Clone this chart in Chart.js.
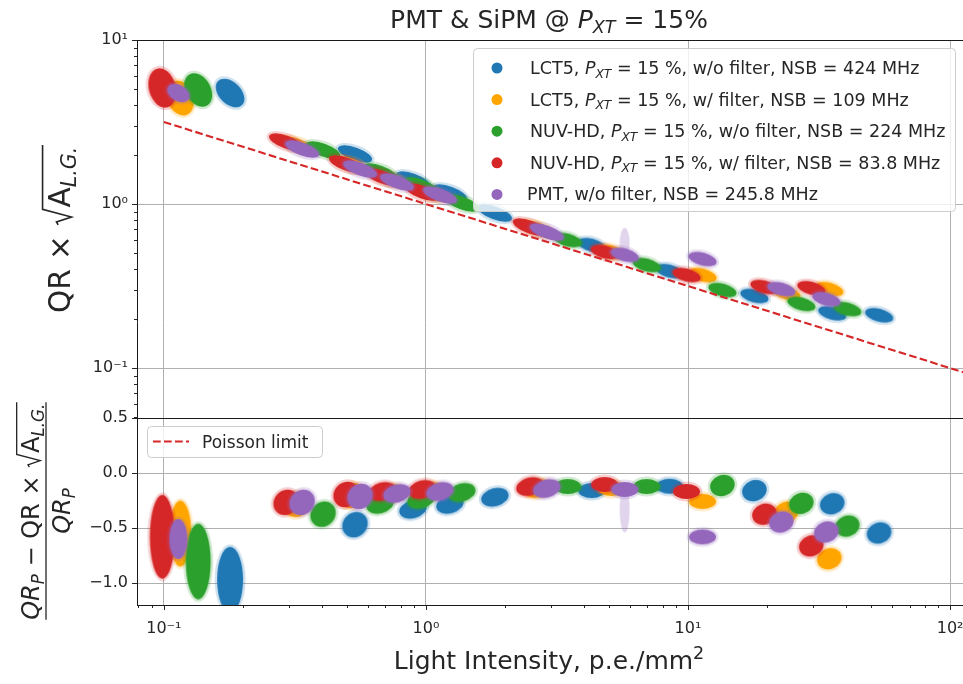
<!DOCTYPE html>
<html lang="en">
<head>
<meta charset="utf-8">
<title>PMT &amp; SiPM @ PXT = 15%</title>
<script src="https://cdn.jsdelivr.net/npm/chart.js@4.4.1/dist/chart.umd.min.js"></script>
<style>
  html, body { margin: 0; padding: 0; background: #fff; }
  #box { width: 963px; height: 684px; }
</style>
</head>
<body>
<div id="box"><canvas id="qr" width="963" height="684"></canvas></div>
<script>
// light intensity (p.e./mm^2), QR x sqrt(A_L.G.) and relative deviation from the Poisson limit
const lct5NoFilterX   = [0.179, 0.536, 0.892, 1.234, 1.832, 4.29, 8.50, 17.92, 35.5, 53.6];
const lct5NoFilterQR  = [4.75, 2.02, 1.40, 1.167, 0.881, 0.562, 0.39, 0.275, 0.216, 0.210];
const lct5NoFilterDev = [-0.97, -0.47, -0.33, -0.285, -0.22, -0.16, -0.12, -0.16, -0.28, -0.545];

const lct5FilterX   = [0.1156, 0.3226, 0.5225, 0.729, 1.036, 2.672, 5.112, 11.36, 23.73, 34.59];
const lct5FilterQR  = [4.43, 2.29, 1.729, 1.42, 1.167, 0.704, 0.51, 0.369, 0.287, 0.303];
const lct5FilterDev = [-0.55, -0.285, -0.204, -0.186, -0.168, -0.141, -0.141, -0.258, -0.356, -0.779];

const nuvNoFilterX   = [0.1353, 0.405, 0.668, 0.957, 1.371, 3.475, 6.95, 13.53, 27.06, 40.52];
const nuvNoFilterQR  = [4.96, 2.135, 1.567, 1.288, 1.014, 0.603, 0.425, 0.299, 0.246, 0.229];
const nuvNoFilterDev = [-0.805, -0.374, -0.285, -0.24, -0.177, -0.123, -0.123, -0.114, -0.276, -0.482];

const nuvFilterX   = [0.0987, 0.2928, 0.4956, 0.680, 0.966, 2.49, 4.807, 9.87, 19.56, 29.54];
const nuvFilterQR  = [5.10, 2.388, 1.754, 1.461, 1.184, 0.724, 0.51, 0.369, 0.312, 0.307];
const nuvFilterDev = [-0.58, -0.267, -0.195, -0.168, -0.150, -0.123, -0.105, -0.168, -0.374, -0.662];

const pmtX   = [0.1136, 0.337, 0.5605, 0.775, 1.131, 2.89, 5.73, 11.36, 22.71, 33.70];
const pmtQR  = [4.75, 2.165, 1.635, 1.362, 1.135, 0.675, 0.49, 0.462, 0.303, 0.263];
const pmtDev = [-0.60, -0.267, -0.213, -0.186, -0.168, -0.141, -0.15, -0.581, -0.446, -0.536];

const seriesLabels = [
  'LCT5, P_XT = 15 %, w/o filter, NSB = 424 MHz',
  'LCT5, P_XT = 15 %, w/ filter, NSB = 109 MHz',
  'NUV-HD, P_XT = 15 %, w/o filter, NSB = 224 MHz',
  'NUV-HD, P_XT = 15 %, w/ filter, NSB = 83.8 MHz',
  'PMT, w/o filter, NSB = 245.8 MHz'
];
const seriesColors = ['#1f77b4', '#ffa500', '#2ca02c', '#d62728', '#9467bd'];

// Poisson limit end points
const poissonX  = [0.1, 150];
const poissonQR = [3.162, 0.0816];

const xTickValues = [0.1, 1, 10, 100];
const xTickLabels = ['10⁻¹', '10⁰', '10¹', '10²'];
const qrTickValues = [0.1, 1, 10];
const qrTickLabels = ['10⁻¹', '10⁰', '10¹'];
const devTickValues = [-1, -0.5, 0, 0.5];
const devTickLabels = ['−1.0', '−0.5', '0.0', '0.5'];

const series = [
  { x: lct5NoFilterX, qr: lct5NoFilterQR, dev: lct5NoFilterDev },
  { x: lct5FilterX, qr: lct5FilterQR, dev: lct5FilterDev },
  { x: nuvNoFilterX, qr: nuvNoFilterQR, dev: nuvNoFilterDev },
  { x: nuvFilterX, qr: nuvFilterQR, dev: nuvFilterDev },
  { x: pmtX, qr: pmtQR, dev: pmtDev }
];

const FAMILY = '"DejaVu Sans", sans-serif';
const TEXT = '#262626';
const X_MIN = 0.079, X_MAX = 112;

// ---- cloud sprites -------------------------------------------------------

// low-intensity clouds have their own size per device
const lowQRShapes = [
  { w: 34, h: 22, rot: 45 }, { w: 36, h: 26, rot: 70 }, { w: 36, h: 25, rot: 60 },
  { w: 40, h: 27, rot: 75 }, { w: 24, h: 16, rot: 30 }
];
const lowDevShapes = [
  { w: 26, h: 66, rot: 0 }, { w: 22, h: 66, rot: 0 }, { w: 25, h: 76, rot: 0 },
  { w: 25, h: 84, rot: 0 }, { w: 18, h: 40, rot: 0 }
];

function cloudShape(panel, s, x) {
  if (panel === 'qr') {
    if (x < 0.2) return lowQRShapes[s];
    if (x < 3) return { w: 36, h: 13, rot: 20 };
    return { w: 29, h: 13, rot: 15 };
  }
  if (x < 0.2) return lowDevShapes[s];
  if (x < 0.6) return { w: 27, h: 24, rot: -45 };
  if (x < 3) return { w: 28, h: 18, rot: -15 };
  if (x < 12) return { w: 27, h: 15, rot: 0 };
  return { w: 25, h: 21, rot: -20 };
}

const spriteCache = {};
function cloudSprite(color, shape, spray) {
  const key = [color, shape.w, shape.h, shape.rot, spray].join('|');
  if (spriteCache[key]) return spriteCache[key];
  const pad = 5;
  const half = Math.max(shape.w, shape.h) / 2 + pad;
  const reach = Math.abs(spray || 0);
  const c = document.createElement('canvas');
  c.width = Math.ceil(half * 2);
  c.height = Math.ceil((half + reach) * 2);
  const g = c.getContext('2d');
  const cx = c.width / 2, cy = c.height / 2;
  g.fillStyle = color;
  if (spray) {
    g.globalAlpha = 0.28;
    g.beginPath();
    g.ellipse(cx, cy + spray / 2, 5, reach / 2 + 3, 0, 0, Math.PI * 2);
    g.fill();
  }
  g.translate(cx, cy);
  g.rotate(shape.rot * Math.PI / 180);
  g.globalAlpha = 0.22;
  g.beginPath();
  g.ellipse(0, 0, shape.w / 2 + 2.5, shape.h / 2 + 2.5, 0, 0, Math.PI * 2);
  g.fill();
  g.globalAlpha = 1;
  g.beginPath();
  g.ellipse(0, 0, shape.w / 2, shape.h / 2, 0, 0, Math.PI * 2);
  g.fill();
  spriteCache[key] = c;
  return c;
}

// the PMT point near 6 p.e./mm^2 has a tail of stray events
function sprayFor(panel, s, i) {
  if (s === 4 && i === 6) return panel === 'qr' ? -24 : 40;
  return 0;
}

function cloudDataset(s, panel) {
  const src = series[s];
  const ys = panel === 'qr' ? src.qr : src.dev;
  return {
    type: 'scatter',
    yAxisID: panel,
    data: src.x.map((x, i) => ({ x, y: ys[i] })),
    order: 5 - s + 1,
    clip: 0,
    radius: 3,
    pointStyle: (ctx) => {
      if (!ctx.raw) return 'circle';
      const shape = cloudShape(panel, s, ctx.raw.x);
      return cloudSprite(seriesColors[s], shape, sprayFor(panel, s, ctx.dataIndex));
    }
  };
}

const datasets = [];
series.forEach((_, s) => {
  datasets.push(cloudDataset(s, 'qr'));
  datasets.push(cloudDataset(s, 'dev'));
});
datasets.push({
  type: 'line',
  label: 'Poisson limit',
  yAxisID: 'qr',
  data: poissonX.map((x, i) => ({ x, y: poissonQR[i] })),
  borderColor: '#d62728',
  borderWidth: 2.1,
  borderDash: [7.7, 3.3],
  pointRadius: 0,
  fill: false,
  order: 0,
  clip: 0
});

// ---- ticks ---------------------------------------------------------------

function isDecade(v) {
  const l = Math.log10(v);
  return Math.abs(l - Math.round(l)) < 1e-9;
}
function logTicks(min, max) {
  const out = [];
  for (let e = Math.floor(Math.log10(min)); e <= Math.ceil(Math.log10(max)); e++) {
    for (let m = 1; m <= 9; m++) {
      const v = parseFloat((m * Math.pow(10, e)).toPrecision(6));
      if (v >= min && v <= max) out.push(v);
    }
  }
  return out;
}
function labelFor(v, values, labels) {
  const i = values.findIndex(t => Math.abs(t - v) < 1e-9 * Math.max(1, Math.abs(t)));
  return i < 0 ? '' : labels[i];
}

const tickFont = { family: FAMILY, size: 16 };
const gridColor = (major) => major ? '#b0b0b0' : 'rgba(0,0,0,0)';

const scales = {
  x: {
    type: 'logarithmic',
    min: X_MIN,
    max: X_MAX,
    afterBuildTicks: (sc) => { sc.ticks = logTicks(X_MIN, X_MAX).map(value => ({ value })); },
    afterFit: (sc) => {
      // the axes run to the right edge; no room is kept for the last label
      sc.height = 79;
      sc.paddingLeft = 0;
      sc.paddingRight = 0;
    },
    ticks: {
      autoSkip: false, maxRotation: 0, padding: 14, color: TEXT, font: tickFont,
      callback: (v) => labelFor(v, xTickValues, xTickLabels)
    },
    grid: { drawTicks: false, lineWidth: 1, color: (c) => gridColor(c.tick && isDecade(c.tick.value)) },
    border: { display: false }
  },
  dev: {
    type: 'linear',
    position: 'left',
    stack: 'panels',
    stackWeight: 187,
    min: -1.2,
    max: 0.5,
    afterBuildTicks: (sc) => { sc.ticks = devTickValues.map(value => ({ value })); },
    afterFit: (sc) => { sc.width = 137; sc.paddingTop = 0; sc.paddingBottom = 0; },
    ticks: {
      autoSkip: false, padding: 9, color: TEXT, font: tickFont,
      callback: (v) => labelFor(v, devTickValues, devTickLabels)
    },
    grid: { drawTicks: false, lineWidth: 1, color: '#b0b0b0' },
    border: { display: false }
  },
  qr: {
    type: 'logarithmic',
    position: 'left',
    stack: 'panels',
    stackWeight: 378,
    min: 0.0496,
    max: 10,
    afterBuildTicks: (sc) => { sc.ticks = logTicks(0.0496, 10).map(value => ({ value })); },
    afterFit: (sc) => { sc.width = 137; sc.paddingTop = 0; sc.paddingBottom = 0; },
    ticks: {
      autoSkip: false, padding: 9, color: TEXT, font: tickFont,
      callback: (v) => labelFor(v, qrTickValues, qrTickLabels)
    },
    grid: { drawTicks: false, lineWidth: 1, color: (c) => gridColor(c.tick && isDecade(c.tick.value)) },
    border: { display: false }
  }
};

// ---- rich text helpers ---------------------------------------------------

function segmentsOf(text) {
  const out = [];
  text.split(/(P_XT)/).filter(Boolean).forEach(t => {
    if (t === 'P_XT') {
      out.push({ t: 'P', it: true }, { t: 'XT', it: true, sub: true });
    } else {
      out.push({ t });
    }
  });
  return out;
}

function segFont(seg, size) {
  const sz = (seg.sub || seg.sup) ? size * 0.7 : size;
  return (seg.it ? 'italic ' : '') + sz + 'px ' + FAMILY;
}

// items are text segments or { root: [segments] }
function measureItems(ctx, items, size) {
  let w = 0;
  items.forEach(it => {
    if (it.root) {
      it.inner = measureItems(ctx, it.root, size);
      it.w = size * 0.62 + it.inner + size * 0.06;
    } else {
      ctx.font = segFont(it, size);
      it.w = ctx.measureText(it.t).width;
    }
    w += it.w;
  });
  return w;
}

function drawItems(ctx, items, x, y, size) {
  let cx = x;
  items.forEach(it => {
    if (it.root) {
      const top = y - size * 0.93;
      ctx.save();
      ctx.lineWidth = size * 0.055;
      ctx.strokeStyle = ctx.fillStyle;
      ctx.lineJoin = 'miter';
      ctx.beginPath();
      ctx.moveTo(cx + size * 0.03, y - size * 0.40);
      ctx.lineTo(cx + size * 0.13, y - size * 0.46);
      ctx.lineTo(cx + size * 0.30, y + size * 0.05);
      ctx.lineTo(cx + size * 0.56, top);
      ctx.lineTo(cx + it.w, top);
      ctx.stroke();
      ctx.restore();
      drawItems(ctx, it.root, cx + size * 0.62, y, size);
    } else {
      ctx.font = segFont(it, size);
      const dy = it.sub ? size * 0.2 : it.sup ? -size * 0.4 : 0;
      ctx.fillText(it.t, cx, y + dy);
    }
    cx += it.w;
  });
}

function drawRich(ctx, items, x, y, size, align) {
  ctx.textAlign = 'left';
  ctx.textBaseline = 'alphabetic';
  const w = measureItems(ctx, items, size);
  const x0 = align === 'center' ? x - w / 2 : x;
  drawItems(ctx, items, x0, y, size);
  return w;
}

// ---- decorations ---------------------------------------------------------

const decor = {
  id: 'decor',
  afterDraw(chart) {
    const { ctx, chartArea: a } = chart;
    const sx = chart.scales.x, sq = chart.scales.qr, sd = chart.scales.dev;
    ctx.save();

    // tick marks
    ctx.strokeStyle = TEXT;
    ctx.lineWidth = 1;
    ctx.beginPath();
    sx.ticks.forEach(t => {
      const p = Math.round(sx.getPixelForValue(t.value)) + 0.5;
      ctx.moveTo(p, a.bottom);
      ctx.lineTo(p, a.bottom + (isDecade(t.value) ? 5 : 3));
    });
    sq.ticks.forEach(t => {
      const p = Math.round(sq.getPixelForValue(t.value)) + 0.5;
      ctx.moveTo(a.left, p);
      ctx.lineTo(a.left - (isDecade(t.value) ? 5 : 3), p);
    });
    sd.ticks.forEach(t => {
      const p = Math.round(sd.getPixelForValue(t.value)) + 0.5;
      ctx.moveTo(a.left, p);
      ctx.lineTo(a.left - 5, p);
    });
    ctx.stroke();

    // panel frames
    ctx.strokeStyle = '#1a1a1a';
    ctx.beginPath();
    ctx.moveTo(a.left + 0.5, a.top);
    ctx.lineTo(a.left + 0.5, a.bottom);
    [sq.top, sd.top, a.bottom].forEach(y => {
      ctx.moveTo(a.left, Math.round(y) + 0.5);
      ctx.lineTo(a.right, Math.round(y) + 0.5);
    });
    ctx.stroke();

    // series legend
    ctx.fillStyle = 'rgba(255,255,255,0.8)';
    ctx.strokeStyle = '#cccccc';
    ctx.beginPath();
    ctx.roundRect(473.5, 48.5, 482, 163, 4);
    ctx.fill();
    ctx.stroke();
    seriesLabels.forEach((label, i) => {
      const y = 68 + i * 31.6;
      ctx.fillStyle = seriesColors[i];
      ctx.beginPath();
      ctx.arc(497, y, 5.5, 0, Math.PI * 2);
      ctx.fill();
      ctx.fillStyle = TEXT;
      drawRich(ctx, segmentsOf(label), i === 4 ? 527 : 530, y + 6, 17.5, 'left');
    });

    // Poisson legend
    ctx.fillStyle = 'rgba(255,255,255,0.8)';
    ctx.strokeStyle = '#cccccc';
    ctx.beginPath();
    ctx.roundRect(147.5, 426.5, 175, 31, 4);
    ctx.fill();
    ctx.stroke();
    ctx.strokeStyle = '#d62728';
    ctx.lineWidth = 2.1;
    ctx.setLineDash([7.7, 3.3]);
    ctx.beginPath();
    ctx.moveTo(153, 441.5);
    ctx.lineTo(189, 441.5);
    ctx.stroke();
    ctx.setLineDash([]);
    ctx.fillStyle = TEXT;
    drawRich(ctx, [{ t: 'Poisson limit' }], 202, 448, 17, 'left');

    // title and x label
    drawRich(ctx, [{ t: 'PMT & SiPM @ ' }, { t: 'P', it: true }, { t: 'XT', it: true, sub: true }, { t: ' = 15%' }],
      549, 28, 25, 'center');
    drawRich(ctx, [{ t: 'Light Intensity, p.e./mm' }, { t: '2', sup: true }], 549, 669, 25, 'center');

    // y label of the upper panel
    ctx.save();
    ctx.translate(70, 229);
    ctx.rotate(-Math.PI / 2);
    drawRich(ctx, [{ t: 'QR × ' }, { root: [{ t: 'A' }, { t: 'L.G.', it: true, sub: true }] }], 0, 0, 29.5, 'center');
    ctx.restore();

    // y label of the lower panel: (QR_P - QR x sqrt(A)) / QR_P
    const fs = 24;
    ctx.save();
    ctx.translate(46, 511);
    ctx.rotate(-Math.PI / 2);
    const num = [{ t: 'QR', it: true }, { t: 'P', it: true, sub: true }, { t: ' − QR × ' },
      { root: [{ t: 'A' }, { t: 'L.G.', it: true, sub: true }] }];
    const nw = drawRich(ctx, num, 0, -7, fs, 'center');
    ctx.strokeStyle = TEXT;
    ctx.lineWidth = 1.3;
    ctx.beginPath();
    ctx.moveTo(-nw / 2, 0);
    ctx.lineTo(nw / 2, 0);
    ctx.stroke();
    drawRich(ctx, [{ t: 'QR', it: true }, { t: 'P', it: true, sub: true }], 0, 24, fs, 'center');
    ctx.restore();

    ctx.restore();
  }
};

new Chart(document.getElementById('qr'), {
  type: 'scatter',
  data: { datasets },
  options: {
    responsive: false,
    animation: false,
    events: [],
    layout: { autoPadding: false, padding: { top: 40, left: 0, right: 0, bottom: 0 } },
    scales,
    plugins: {
      legend: { display: false },
      title: { display: false },
      tooltip: { enabled: false }
    }
  },
  plugins: [decor]
});
</script>
</body>
</html>
